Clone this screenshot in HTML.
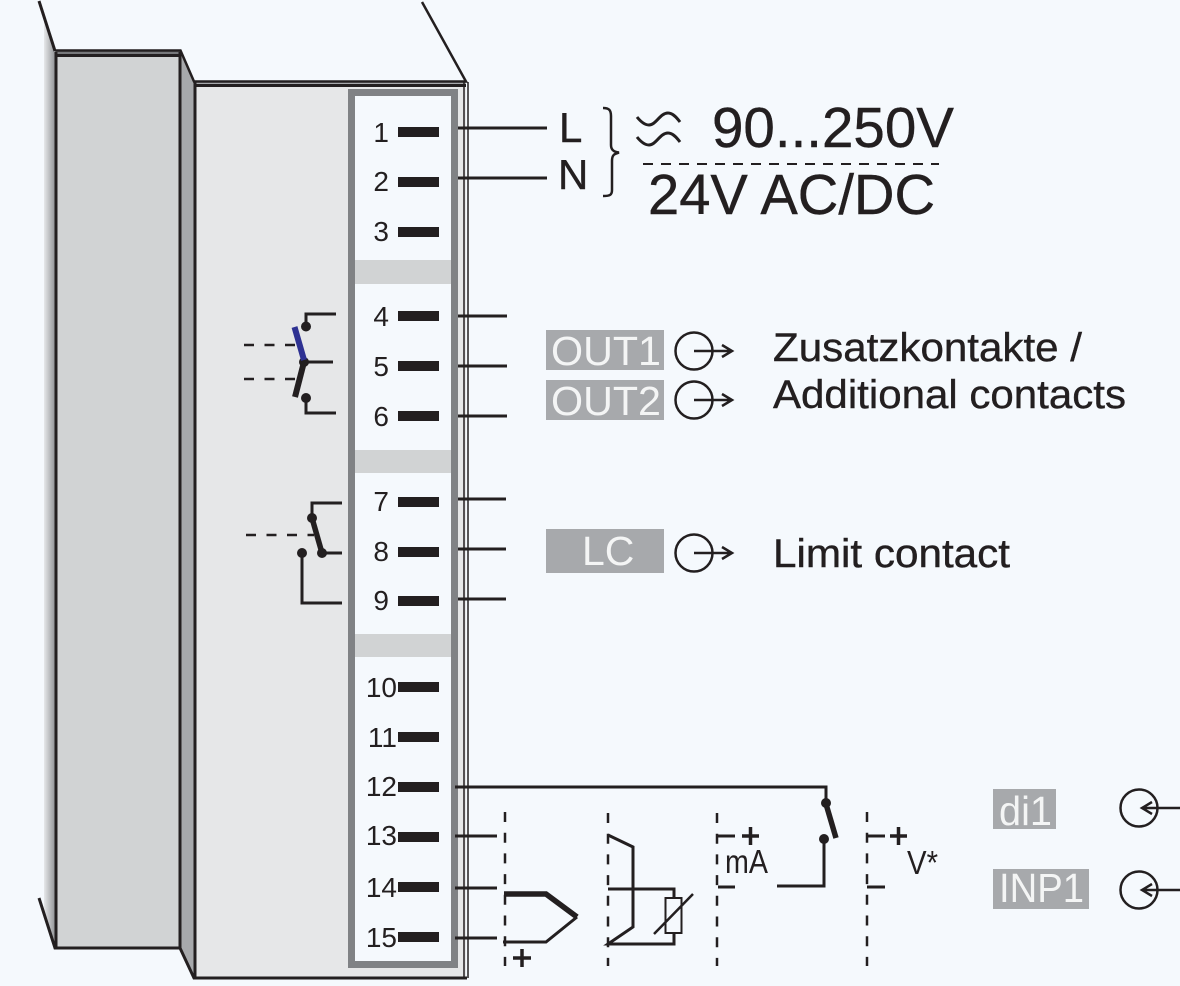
<!DOCTYPE html>
<html><head><meta charset="utf-8"><style>
html,body{margin:0;padding:0;background:#f5f9fd}
svg{display:block}
text{font-family:"Liberation Sans",sans-serif;fill:#231f20}
.n{font-size:28px;text-anchor:end}
.w{fill:#f4f5f5;font-size:41px}
.l{fill:none;stroke:#231f20;stroke-width:3}
.t{fill:none;stroke:#231f20;stroke-width:2.500}
.d{fill:none;stroke:#231f20;stroke-width:2.500;stroke-dasharray:10 10.700}
.h{stroke:#231f20;stroke-width:.4}
</style></head><body>
<svg width="1180" height="986" viewBox="0 0 1180 986" xmlns="http://www.w3.org/2000/svg">
<defs><linearGradient id="g" x1="0" x2="1" y1="0" y2="0"><stop offset="0" stop-color="#e6e8ea"/><stop offset="1" stop-color="#939598"/></linearGradient></defs>
<rect width="1180" height="986" fill="#f5f9fd"/>
<polygon points="44,18 55,52 55,948 44,916" fill="url(#g)"/>
<rect x="56" y="52" width="124" height="896" fill="#d1d3d4"/>
<rect x="56" y="51" width="124" height="4" fill="#77787b"/>
<polygon points="180,52 194,83 194,978 180,948" fill="#a7a9ac"/>
<rect x="195" y="84" width="271" height="894" fill="#e6e7e8"/>
<rect x="195" y="81" width="271" height="4" fill="#a7a9ac"/>
<path class="l" d="M39,1 L55,51" />
<path class="t" d="M55,50.500 H180.500 L194,81.500 H466 L422,2" stroke-width="2"/>
<path class="l" d="M55,55.500 H180 M195,85.500 H466" />
<path class="l" d="M56,52 V948 M180,52 V948 M195,82 V978"/>
<path class="l" d="M39,898 L55,948 H180 L194,978 H467" stroke-width="3.500"/>
<path fill="none" stroke="#231f20" stroke-width="1.500" d="M464,82 V978 M468,82 V978"/>
<rect x="351.500" y="92.500" width="103" height="872" fill="#f5f9fd" stroke="#808285" stroke-width="7"/>
<rect x="355" y="260" width="96" height="24" fill="#d1d3d4"/>
<rect x="355" y="450" width="96" height="23" fill="#d1d3d4"/>
<rect x="355" y="634" width="96" height="23" fill="#d1d3d4"/>
<g fill="#231f20">
<rect x="398" y="127" width="41" height="10"/><rect x="398" y="177" width="41" height="10"/><rect x="398" y="227" width="41" height="10"/>
<rect x="398" y="311" width="41" height="10"/><rect x="398" y="361" width="41" height="10"/><rect x="398" y="411" width="41" height="10"/>
<rect x="398" y="497" width="41" height="10"/><rect x="398" y="547" width="41" height="10"/><rect x="398" y="596" width="41" height="10"/>
<rect x="398" y="682" width="41" height="10"/><rect x="398" y="732" width="41" height="10"/><rect x="398" y="782" width="41" height="10"/>
<rect x="398" y="832" width="41" height="10"/><rect x="398" y="882" width="41" height="10"/><rect x="398" y="932" width="41" height="10"/>
</g>
<g>
<text class="n" x="389" y="142">1</text><text class="n" x="389" y="191">2</text><text class="n" x="389" y="241">3</text>
<text class="n" x="389" y="326">4</text><text class="n" x="389" y="376">5</text><text class="n" x="389" y="426">6</text>
<text class="n" x="389" y="511">7</text><text class="n" x="389" y="561">8</text><text class="n" x="389" y="610">9</text>
<text class="n" x="397" y="697">10</text><text class="n" x="397" y="747">11</text><text class="n" x="397" y="796">12</text>
<text class="n" x="397" y="845">13</text><text class="n" x="397" y="897">14</text><text class="n" x="397" y="947">15</text>
</g>
<path class="l" d="M458,128 H547 M458,178 H547 M458,316 H507 M458,366 H507 M458,416 H507 M458,499 H506 M458,549 H506 M458,599 H506 M455,787 H826 V805 M455,836 H497 M455,888 H497 M455,938 H497"/>
<text class="h" x="559" y="142" font-size="42">L</text>
<text class="h" x="558" y="189" font-size="42">N</text>
<path fill="none" stroke="#231f20" stroke-width="2.500" d="M603,108 C609,108 611,110 611,116 V145 C611,150 614,152 619,152.500 C614,154 612,155 612,161 V190 C612,195 610,196 603,196"/>
<path fill="none" stroke="#231f20" stroke-width="3" d="M637,117 C641,122 645,125 649,125 C656,125 660,113 668,113 C673,113 677,118 680,122 M637,137 C641,142 645,145 649,145 C656,145 660,133 668,133 C673,133 677,138 680,142"/>
<text class="h" x="712" y="147" font-size="57" textLength="242" lengthAdjust="spacingAndGlyphs">90...250V</text>
<path d="M643,164 H939" stroke="#231f20" stroke-width="2" stroke-dasharray="10 8" fill="none"/>
<text class="h" x="648" y="214" font-size="57" textLength="287" lengthAdjust="spacingAndGlyphs">24V AC/DC</text>
<!-- changeover contact -->
<path class="t" d="M244,345 H296 M244,379 H296" stroke-dasharray="10 10.500"/>
<path class="l" d="M306,326 V314 H336 M304,362 H333 M306,398 V413 H336"/>
<circle cx="306" cy="326.500" r="5" fill="#231f20"/><circle cx="304" cy="362" r="5" fill="#231f20"/><circle cx="306" cy="398" r="5" fill="#231f20"/>
<path d="M294.500,327 L304,360" stroke="#2e3192" stroke-width="6" fill="none"/>
<path d="M304,362 L295,397" stroke="#231f20" stroke-width="6" fill="none"/>
<!-- limit contact -->
<path class="t" d="M246,535 H314" stroke-dasharray="10 10.500"/>
<path class="l" d="M312,518 V503 H342 M322,553 H342 M302,553 V603 H342"/>
<path d="M312,518 L322,553" stroke="#231f20" stroke-width="5.500" fill="none"/>
<circle cx="312" cy="518" r="5" fill="#231f20"/><circle cx="322" cy="553" r="5" fill="#231f20"/><circle cx="302" cy="553" r="5" fill="#231f20"/>
<!-- labels -->
<rect x="546" y="330" width="118" height="40" fill="#a7a9ac"/>
<rect x="546" y="380" width="118" height="40" fill="#a7a9ac"/>
<rect x="546" y="529" width="118" height="44" fill="#a7a9ac"/>
<rect x="993" y="789" width="63" height="40" fill="#a7a9ac"/>
<rect x="993" y="869" width="96" height="40" fill="#a7a9ac"/>
<text class="w" x="551" y="365" textLength="110" lengthAdjust="spacingAndGlyphs">OUT1</text>
<text class="w" x="551" y="415" textLength="110" lengthAdjust="spacingAndGlyphs">OUT2</text>
<text class="w" x="582" y="565">LC</text>
<text class="w" x="999" y="825" textLength="53" lengthAdjust="spacingAndGlyphs">di1</text>
<text class="w" x="999" y="902" textLength="85" lengthAdjust="spacingAndGlyphs">INP1</text>
<circle cx="694" cy="351" r="18.500" class="t"/><path class="t" d="M694,351 H732 M722,345 L732,351 L722,357"/>
<circle cx="694" cy="400" r="18.500" class="t"/><path class="t" d="M694,400 H732 M722,394 L732,400 L722,406"/>
<circle cx="694" cy="553" r="18.500" class="t"/><path class="t" d="M694,553 H732 M722,547 L732,553 L722,559"/>
<circle cx="1139" cy="808" r="18.500" class="t"/><path class="t" d="M1180,808 H1142 M1152,802 L1142,808 L1152,814"/>
<circle cx="1139" cy="890" r="18.500" class="t"/><path class="t" d="M1180,890 H1142 M1152,884 L1142,890 L1152,896"/>
<text class="h" x="773" y="361" font-size="40" textLength="309" lengthAdjust="spacingAndGlyphs">Zusatzkontakte /</text>
<text class="h" x="773" y="408" font-size="40" textLength="353" lengthAdjust="spacingAndGlyphs">Additional contacts</text>
<text class="h" x="773" y="567" font-size="40" textLength="237" lengthAdjust="spacingAndGlyphs">Limit contact</text>
<!-- input section -->
<path class="d" d="M505,812 V966"/><path class="d" d="M608,813 V966"/><path class="d" d="M717,813 V966"/><path class="d" d="M867,812 V966"/>
<path d="M504,894 H546 L577,917" fill="none" stroke="#231f20" stroke-width="5.500"/>
<path class="l" d="M577,917 L546,942 H503"/>
<path d="M513,958 H531 M522,949 V967 M742,836 H759 M750.500,827 V845 M890,836 H907 M898.500,827 V845" stroke="#231f20" stroke-width="3.500" fill="none"/>
<path class="l" d="M608,835 L633,847 V927 L608,944 H674 V889 H608"/>
<rect x="665.500" y="898" width="16" height="35" fill="#f5f9fd" stroke="#231f20" stroke-width="2"/>
<path class="t" d="M654,934 L693,894"/>
<path class="l" d="M717,836 H735 M718,887 H735 M867,836 H885 M867,887 H885"/>
<text x="725" y="873" font-size="33" textLength="43" lengthAdjust="spacingAndGlyphs">mA</text>
<text x="907" y="874" font-size="33" textLength="31" lengthAdjust="spacingAndGlyphs">V*</text>
<path class="l" d="M777,886 H824 V840" stroke-width="3.500"/>
<path d="M826,804 L836,838" stroke="#231f20" stroke-width="5.500" fill="none"/>
<circle cx="826" cy="803" r="5" fill="#231f20"/><circle cx="824" cy="839" r="5" fill="#231f20"/>
</svg>
</body></html>
